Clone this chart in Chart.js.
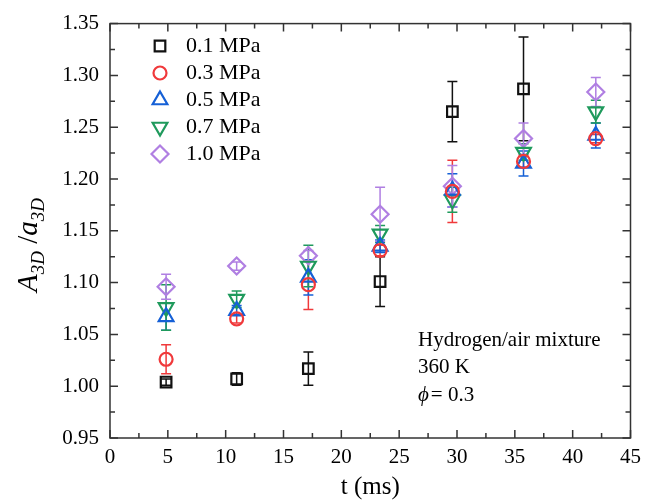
<!DOCTYPE html>
<html>
<head>
<meta charset="utf-8">
<script src="https://cdn.jsdelivr.net/npm/chart.js@4.4.0/dist/chart.umd.min.js"></script>
<style>
  html, body { margin: 0; padding: 0; background: #fff; }
  #wrap { width: 648px; height: 502px; }
</style>
</head>
<body>
<div id="wrap"><canvas id="chart"></canvas></div>
<script>
// time of each measurement (ms)
var times = [4.85, 10.95, 17.15, 23.35, 29.6, 35.75, 42.0];

// A3D / a3D for each pressure, and the +/- error
var ratio01 = [1.004, 1.007, 1.017, 1.101, 1.265, 1.287];
var err01   = [0.003, 0.006, 0.016, 0.024, 0.029, 0.050];
var ratio03 = [1.026, 1.065, 1.098, 1.131, 1.188, 1.217, 1.239];
var err03   = [0.014, 0.004, 0.024, 0.005, 0.030, 0.006, 0.004];
var ratio05 = [1.067, 1.073, 1.105, 1.135, 1.189, 1.215, 1.242];
var err05   = [0.013, 0.005, 0.017, 0.006, 0.016, 0.012, 0.012];
var ratio07 = [1.076, 1.084, 1.116, 1.147, 1.180, 1.226, 1.265];
var err07   = [0.022, 0.008, 0.020, 0.008, 0.012, 0.008, 0.011];
var ratio10 = [1.096, 1.116, 1.126, 1.166, 1.193, 1.239, 1.284];
var err10   = [0.012, 0.004, 0.005, 0.026, 0.020, 0.015, 0.014];

var seriesNames = ["0.1 MPa", "0.3 MPa", "0.5 MPa", "0.7 MPa", "1.0 MPa"];
var xTicks = [0, 45, 5];
var yTicks = [0.95, 1.35, 0.05];

var SERIF = "'Liberation Serif', 'Times New Roman', serif";

function points(vals) {
    return vals.map(function (v, i) { return { x: times[i], y: v }; });
}

function series(name, vals, errs, color, style, radius, rot) {
    return {
        label: name,
        data: points(vals),
        errors: errs,
        borderColor: color,
        backgroundColor: 'rgba(0,0,0,0)',
        pointStyle: style,
        pointRadius: radius,
        pointHoverRadius: radius,
        pointRotation: rot || 0,
        pointBorderWidth: 2.2,
        showLine: false
    };
}

var datasets = [
    series(seriesNames[0], ratio01, err01, '#111111', 'rect', 7.5),
    series(seriesNames[1], ratio03, err03, '#f0393b', 'circle', 6.5),
    series(seriesNames[2], ratio05, err05, '#1560d6', 'triangle', 8.5),
    series(seriesNames[3], ratio07, err07, '#1f9a5c', 'triangle', 8.5, 180),
    series(seriesNames[4], ratio10, err10, '#b07fe2', 'rectRot', 8.5)
];

// error bars, drawn under the markers
var errorBars = {
    id: 'errorBars',
    beforeDatasetsDraw: function (chart) {
        var ctx = chart.ctx, xs = chart.scales.x, ys = chart.scales.y;
        ctx.save();
        chart.data.datasets.forEach(function (ds) {
            ctx.strokeStyle = ds.borderColor;
            ctx.lineWidth = 1.5;
            ds.data.forEach(function (p, i) {
                var e = ds.errors[i];
                var px = xs.getPixelForValue(p.x);
                var top = ys.getPixelForValue(p.y + e);
                var bot = ys.getPixelForValue(p.y - e);
                ctx.beginPath();
                ctx.moveTo(px, top); ctx.lineTo(px, bot);
                ctx.moveTo(px - 5, top); ctx.lineTo(px + 5, top);
                ctx.moveTo(px - 5, bot); ctx.lineTo(px + 5, bot);
                ctx.stroke();
            });
        });
        ctx.restore();
    }
};

// box frame with inward major/minor ticks on all four sides
var frame = {
    id: 'frame',
    afterDraw: function (chart) {
        var ctx = chart.ctx, a = chart.chartArea;
        var xs = chart.scales.x, ys = chart.scales.y;
        ctx.save();
        ctx.strokeStyle = '#333';
        ctx.lineWidth = 1.5;
        ctx.strokeRect(a.left, a.top, a.right - a.left, a.bottom - a.top);
        ctx.beginPath();
        var v, len, px;
        for (var k = 0; k <= 18; k++) {
            v = k * 2.5;
            len = k % 2 === 0 ? 8 : 5;
            px = xs.getPixelForValue(v);
            ctx.moveTo(px, a.bottom); ctx.lineTo(px, a.bottom - len);
            ctx.moveTo(px, a.top); ctx.lineTo(px, a.top + len);
        }
        for (k = 0; k <= 16; k++) {
            v = yTicks[0] + k * 0.025;
            len = k % 2 === 0 ? 8 : 5;
            px = ys.getPixelForValue(v);
            ctx.moveTo(a.left, px); ctx.lineTo(a.left + len, px);
            ctx.moveTo(a.right, px); ctx.lineTo(a.right - len, px);
        }
        ctx.stroke();
        ctx.restore();
    }
};

// legend in the top-left corner, annotation text, y title with subscripts
var extras = {
    id: 'extras',
    afterDraw: function (chart) {
        var ctx = chart.ctx;
        ctx.save();
        ctx.font = '22px ' + SERIF;
        ctx.fillStyle = '#000';
        ctx.textBaseline = 'middle';
        chart.data.datasets.forEach(function (ds, i) {
            var y = 46 + i * 27;
            ctx.strokeStyle = ds.borderColor;
            ctx.fillStyle = 'rgba(0,0,0,0)';
            ctx.lineWidth = 2.2;
            Chart.helpers.drawPoint(ctx, {
                pointStyle: ds.pointStyle,
                radius: ds.pointRadius,
                rotation: ds.pointRotation,
                borderWidth: 2.2
            }, 160, y);
            ctx.fillStyle = '#000';
            ctx.fillText(ds.label, 186, y);
        });

        ctx.font = '21px ' + SERIF;
        ctx.fillText('Hydrogen/air mixture', 418, 340);
        ctx.fillText('360 K', 418, 367);
        ctx.font = 'italic 21px ' + SERIF;
        ctx.fillText('\u03d5', 418, 395);
        var w = ctx.measureText('\u03d5').width;
        ctx.font = '21px ' + SERIF;
        ctx.fillText('= 0.3', 418 + w + 2, 395);

        // y axis title: A_3D / a_3D
        var parts = [
            { t: 'A', f: 'italic 29px ' + SERIF, dy: 0 },
            { t: '3D', f: 'italic 19px ' + SERIF, dy: 7 },
            { t: ' /', f: '29px ' + SERIF, dy: 0 },
            { t: 'a', f: 'italic 29px ' + SERIF, dy: 0 },
            { t: '3D', f: 'italic 19px ' + SERIF, dy: 7 }
        ];
        var total = 0;
        parts.forEach(function (p) { ctx.font = p.f; p.w = ctx.measureText(p.t).width; total += p.w; });
        ctx.translate(28, 245);
        ctx.rotate(-Math.PI / 2);
        ctx.textBaseline = 'alphabetic';
        var x = -total / 2;
        parts.forEach(function (p) {
            ctx.font = p.f;
            ctx.fillText(p.t, x, 9 + p.dy);
            x += p.w;
        });
        ctx.restore();
    }
};

new Chart(document.getElementById('chart'), {
    type: 'scatter',
    data: { datasets: datasets },
    plugins: [errorBars, frame, extras],
    options: {
        responsive: true,
        maintainAspectRatio: false,
        animation: false,
        layout: { padding: { left: 0, right: 10, top: 16, bottom: 0 } },
        plugins: { legend: { display: false }, tooltip: { enabled: false } },
        scales: {
            x: {
                min: xTicks[0], max: xTicks[1],
                grid: { display: false, drawTicks: false },
                border: { display: false },
                ticks: { stepSize: xTicks[2], autoSkip: false, maxRotation: 0, padding: 7,
                         color: '#000', font: { family: SERIF, size: 21 } },
                title: { display: true, text: 't (ms)', color: '#000',
                         font: { family: SERIF, size: 25 }, padding: { top: 0, bottom: 0 } },
                afterFit: function (s) { s.height = 64; }
            },
            y: {
                min: yTicks[0], max: yTicks[1],
                grid: { display: false, drawTicks: false },
                border: { display: false },
                ticks: { stepSize: yTicks[2], padding: 11, color: '#000',
                         font: { family: SERIF, size: 21 },
                         callback: function (v) { return v.toFixed(2); } },
                afterFit: function (s) { s.width = 110; }
            }
        }
    }
});
</script>
</body>
</html>
